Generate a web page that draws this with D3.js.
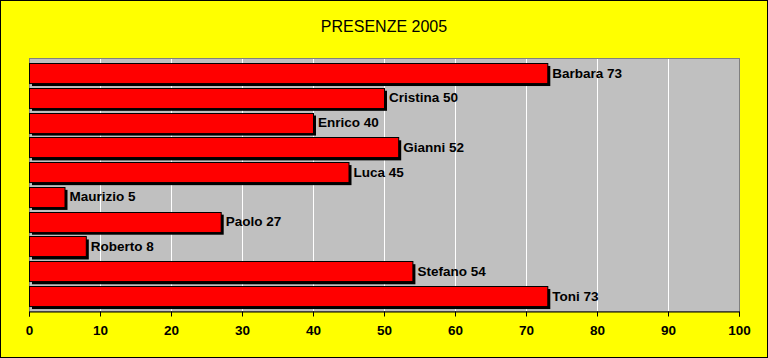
<!DOCTYPE html>
<html><head><meta charset="utf-8">
<script src="https://cdn.jsdelivr.net/npm/d3@7"></script>
<style>body{margin:0;background:#fff}svg{display:block}</style>
</head><body>
<script>
const names = ["Barbara","Cristina","Enrico","Gianni","Luca","Maurizio","Paolo","Roberto","Stefano","Toni"];
const values = [73,50,40,52,45,5,27,8,54,73];
const ticks = [0,10,20,30,40,50,60,70,80,90,100];
const title = "PRESENZE 2005";

const W=768,H=358;
const FONT="Liberation Sans, Arial, sans-serif";
const svg=d3.select("body").append("svg").attr("width",W).attr("height",H);
svg.append("rect").attr("x",0.5).attr("y",0.5).attr("width",W-1).attr("height",H-1)
  .attr("fill","#ffff00").attr("stroke","#000").attr("stroke-width",1);
svg.append("text").attr("x",384).attr("y",31.5).attr("text-anchor","middle")
  .attr("font-family",FONT).attr("font-size",16).text(title);

const L=29,R=739,T=58,B=311;
const x=d3.scaleLinear().domain([0,100]).range([L,R]);
const y=d3.scaleBand().domain(names).range([T,B]).paddingInner(0.19).paddingOuter(0.2);

svg.append("rect").attr("x",L+0.5).attr("y",T+0.5).attr("width",R-L).attr("height",B-T)
  .attr("fill","#c0c0c0").attr("stroke","#808080");
svg.append("g").selectAll("line").data(ticks.slice(1,-1)).join("line")
  .attr("x1",d=>Math.round(x(d))+0.5).attr("x2",d=>Math.round(x(d))+0.5)
  .attr("y1",T+1).attr("y2",B).attr("stroke","#fff");

const d = names.map((n,i)=>({n,v:values[i]}));
const g=svg.append("g");
g.selectAll(".sh").data(d).join("rect")
  .attr("x",x(0)+3).attr("y",e=>y(e.n)+3)
  .attr("width",e=>x(e.v)-x(0)).attr("height",y.bandwidth()).attr("fill","#000");
g.selectAll(".bar").data(d).join("rect")
  .attr("x",x(0)+0.5).attr("y",e=>Math.round(y(e.n))+0.5)
  .attr("width",e=>x(e.v)-x(0)).attr("height",y.bandwidth())
  .attr("fill","#ff0000").attr("stroke","#000").attr("stroke-width",1);
g.selectAll("text").data(d).join("text")
  .attr("x",e=>x(e.v)+5).attr("y",e=>y(e.n)+y.bandwidth()/2+1)
  .attr("dominant-baseline","middle")
  .attr("font-family",FONT).attr("font-size",13.5).attr("font-weight","bold")
  .text(e=>e.n+" "+e.v);

const ax=svg.append("g").attr("transform",`translate(0,${B+0.5})`)
  .call(d3.axisBottom(x).tickValues(ticks).tickSize(5).tickPadding(9));
ax.select(".domain").attr("stroke","#000");
ax.selectAll(".tick line").attr("stroke","#000");
ax.selectAll("text").attr("font-family",FONT).attr("font-size",13.5)
  .attr("font-weight","bold").attr("fill","#000");
</script>
</body></html>
